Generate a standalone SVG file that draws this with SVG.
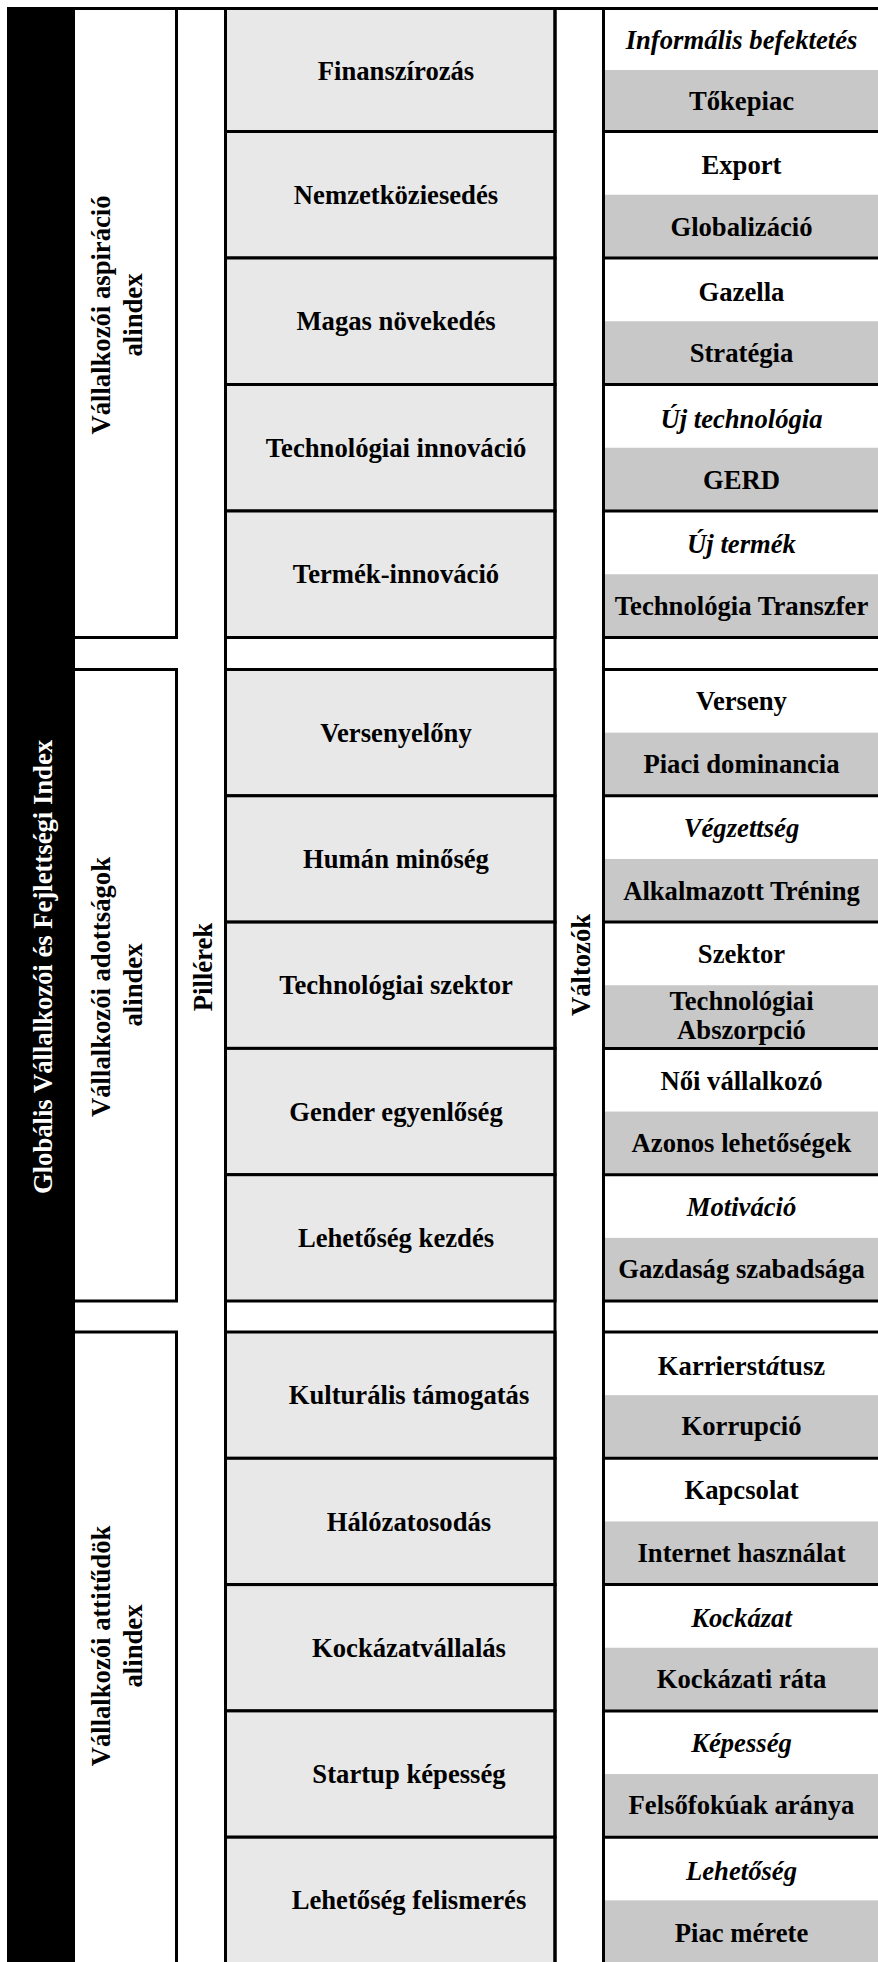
<svg xmlns="http://www.w3.org/2000/svg" width="878" height="1962" viewBox="0 0 878 1962">
<style>
  text { font-family: "Liberation Serif", "Times New Roman", serif; font-weight: bold; font-size: 26.67px; fill: #000; }
  .c { text-anchor: middle; }
  .i { font-style: italic; }
  .w { fill: #fff; }
  .ln { stroke: #000; stroke-width: 3; fill: none; }
  .sub { fill: #fff; stroke: #000; stroke-width: 3; }
  .pil { fill: #e8e8e8; stroke: #000; stroke-width: 3; }
  .vw { fill: #fff; }
  .vg { fill: #c8c8c8; }
</style>
<rect x="0" y="0" width="878" height="1962" fill="#fff"/>

<g id="index-title">
  <rect x="7" y="7" width="68" height="1960" fill="#000"/>
  <text class="c w" transform="translate(52,967) rotate(-90)">Globális Vállalkozói és Fejlettségi Index</text>
</g>

<g id="subindex-aspiracio">
  <rect class="sub" x="73.5" y="8.5" width="103" height="629"/>
  <text class="c" transform="translate(110,315) rotate(-90)">Vállalkozói aspiráció</text>
  <text class="c" transform="translate(141.5,315) rotate(-90)">alindex</text>
</g>
<g id="subindex-adottsagok">
  <rect class="sub" x="73.5" y="669.5" width="103" height="631.5"/>
  <text class="c" transform="translate(110,987) rotate(-90)">Vállalkozói adottságok</text>
  <text class="c" transform="translate(141.5,985) rotate(-90)">alindex</text>
</g>
<g id="subindex-attitudok">
  <rect class="sub" x="73.5" y="1332" width="103" height="640"/>
  <text class="c" transform="translate(110,1646) rotate(-90)">Vállalkozói attitűdök</text>
  <text class="c" transform="translate(141.5,1646) rotate(-90)">alindex</text>
</g>

<g id="pillars-label">
  <text class="c" transform="translate(212,967) rotate(-90)">Pillérek</text>
</g>
<g id="variables-label">
  <text class="c" transform="translate(590,965) rotate(-90)">Változók</text>
</g>

<g id="pillars">
  <rect class="pil" x="225.5" y="8.5" width="329.5" height="123"/>
  <rect class="pil" x="225.5" y="131.5" width="329.5" height="126.5"/>
  <rect class="pil" x="225.5" y="258" width="329.5" height="126.5"/>
  <rect class="pil" x="225.5" y="384.5" width="329.5" height="126.5"/>
  <rect class="pil" x="225.5" y="511" width="329.5" height="126.5"/>
  <rect class="pil" x="225.5" y="669.5" width="329.5" height="126.3"/>
  <rect class="pil" x="225.5" y="795.8" width="329.5" height="126.3"/>
  <rect class="pil" x="225.5" y="922.1" width="329.5" height="126.3"/>
  <rect class="pil" x="225.5" y="1048.4" width="329.5" height="126.3"/>
  <rect class="pil" x="225.5" y="1174.7" width="329.5" height="126.3"/>
  <rect class="pil" x="225.5" y="1332" width="329.5" height="126.3"/>
  <rect class="pil" x="225.5" y="1458.3" width="329.5" height="126.3"/>
  <rect class="pil" x="225.5" y="1584.6" width="329.5" height="126.3"/>
  <rect class="pil" x="225.5" y="1710.9" width="329.5" height="126.3"/>
  <rect class="pil" x="225.5" y="1837.2" width="329.5" height="140"/>
  <text class="c" x="396" y="80">Finanszírozás</text>
  <text class="c" x="396" y="203.5">Nemzetköziesedés</text>
  <text class="c" x="396" y="330">Magas növekedés</text>
  <text class="c" x="396" y="457">Technológiai innováció</text>
  <text class="c" x="396" y="583">Termék-innováció</text>
  <text class="c" x="396" y="741.5">Versenyelőny</text>
  <text class="c" x="396" y="868">Humán minőség</text>
  <text class="c" x="396" y="994">Technológiai szektor</text>
  <text class="c" x="396" y="1120.5">Gender egyenlőség</text>
  <text class="c" x="396" y="1247">Lehetőség kezdés</text>
  <text class="c" x="409" y="1404">Kulturális támogatás</text>
  <text class="c" x="409" y="1530.5">Hálózatosodás</text>
  <text class="c" x="409" y="1656.5">Kockázatvállalás</text>
  <text class="c" x="409" y="1783">Startup képesség</text>
  <text class="c" x="409" y="1909">Lehetőség felismerés</text>
</g>

<g id="variables">
  <rect class="vw" x="605" y="10" width="273" height="60"/>
  <rect class="vg" x="605" y="70" width="273" height="61.5"/>
  <rect class="vw" x="605" y="131.5" width="273" height="63.25"/>
  <rect class="vg" x="605" y="194.75" width="273" height="63.25"/>
  <rect class="vw" x="605" y="258" width="273" height="63.25"/>
  <rect class="vg" x="605" y="321.25" width="273" height="63.25"/>
  <rect class="vw" x="605" y="384.5" width="273" height="63.25"/>
  <rect class="vg" x="605" y="447.75" width="273" height="63.25"/>
  <rect class="vw" x="605" y="511" width="273" height="63.25"/>
  <rect class="vg" x="605" y="574.25" width="273" height="63.25"/>

  <rect class="vw" x="605" y="669.5" width="273" height="63.15"/>
  <rect class="vg" x="605" y="732.65" width="273" height="63.15"/>
  <rect class="vw" x="605" y="795.8" width="273" height="63.15"/>
  <rect class="vg" x="605" y="858.95" width="273" height="63.15"/>
  <rect class="vw" x="605" y="922.1" width="273" height="63.15"/>
  <rect class="vg" x="605" y="985.25" width="273" height="63.15"/>
  <rect class="vw" x="605" y="1048.4" width="273" height="63.15"/>
  <rect class="vg" x="605" y="1111.55" width="273" height="63.15"/>
  <rect class="vw" x="605" y="1174.7" width="273" height="63.15"/>
  <rect class="vg" x="605" y="1237.85" width="273" height="63.15"/>

  <rect class="vw" x="605" y="1332" width="273" height="63.15"/>
  <rect class="vg" x="605" y="1395.15" width="273" height="63.15"/>
  <rect class="vw" x="605" y="1458.3" width="273" height="63.15"/>
  <rect class="vg" x="605" y="1521.45" width="273" height="63.15"/>
  <rect class="vw" x="605" y="1584.6" width="273" height="63.15"/>
  <rect class="vg" x="605" y="1647.75" width="273" height="63.15"/>
  <rect class="vw" x="605" y="1710.9" width="273" height="63.15"/>
  <rect class="vg" x="605" y="1774.05" width="273" height="63.15"/>
  <rect class="vw" x="605" y="1837.2" width="273" height="63.15"/>
  <rect class="vg" x="605" y="1900.35" width="273" height="63.15"/>

  <text class="c i" x="741.5" y="48.5">Informális befektetés</text>
  <text class="c" x="741.5" y="109.5">Tőkepiac</text>
  <text class="c" x="741.5" y="174">Export</text>
  <text class="c" x="741.5" y="236">Globalizáció</text>
  <text class="c" x="741.5" y="301">Gazella</text>
  <text class="c" x="741.5" y="362">Stratégia</text>
  <text class="c i" x="741.5" y="428">Új technológia</text>
  <text class="c" x="741.5" y="488.5">GERD</text>
  <text class="c i" x="741.5" y="553">Új termék</text>
  <text class="c" x="741.5" y="615">Technológia Transzfer</text>

  <text class="c" x="741.5" y="710">Verseny</text>
  <text class="c" x="741.5" y="773">Piaci dominancia</text>
  <text class="c i" x="741.5" y="837">Végzettség</text>
  <text class="c" x="741.5" y="899.5">Alkalmazott Tréning</text>
  <text class="c" x="741.5" y="963">Szektor</text>
  <text class="c" x="741.5" y="1010">Technológiai</text>
  <text class="c" x="741.5" y="1038.5">Abszorpció</text>
  <text class="c" x="741.5" y="1089.5">Női vállalkozó</text>
  <text class="c" x="741.5" y="1152">Azonos lehetőségek</text>
  <text class="c i" x="741.5" y="1216">Motiváció</text>
  <text class="c" x="741.5" y="1278">Gazdaság szabadsága</text>

  <text class="c" x="741.5" y="1375">Karrierst<tspan class="i">á</tspan>tusz</text>
  <text class="c" x="741.5" y="1435">Korrupció</text>
  <text class="c" x="741.5" y="1499">Kapcsolat</text>
  <text class="c" x="741.5" y="1562">Internet használat</text>
  <text class="c i" x="741.5" y="1626.5">Kockázat</text>
  <text class="c" x="741.5" y="1688">Kockázati ráta</text>
  <text class="c i" x="741.5" y="1751.5">Képesség</text>
  <text class="c" x="741.5" y="1813.5">Felsőfokúak aránya</text>
  <text class="c i" x="741.5" y="1880">Lehetőség</text>
  <text class="c" x="741.5" y="1942">Piac mérete</text>
</g>

<g id="connectors">
  <line class="ln" x1="7" y1="8.5" x2="878" y2="8.5"/>
  <line class="ln" x1="225.5" y1="7" x2="225.5" y2="1962"/>
  <line class="ln" x1="555" y1="7" x2="555" y2="1962"/>
  <line class="ln" x1="603.5" y1="7" x2="603.5" y2="1962"/>
  <path class="ln" d="M603.5 131.5H878M603.5 258H878M603.5 384.5H878M603.5 511H878M603.5 637.5H878M603.5 669.5H878M603.5 795.8H878M603.5 922.1H878M603.5 1048.4H878M603.5 1174.7H878M603.5 1301H878M603.5 1332H878M603.5 1458.3H878M603.5 1584.6H878M603.5 1710.9H878M603.5 1837.2H878"/>
</g>
</svg>
